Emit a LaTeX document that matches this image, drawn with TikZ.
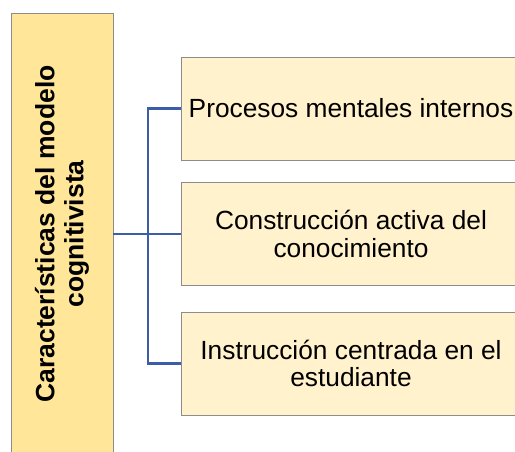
\documentclass[tikz,border=0pt]{standalone}
\usepackage{fontspec}
\setmainfont{Liberation Sans}
\definecolor{mainfill}{HTML}{FFE699}
\definecolor{subfill}{HTML}{FFF2CC}
\definecolor{boxline}{HTML}{8C8C8C}
\definecolor{connblue}{HTML}{3B5EA6}
\begin{document}
\begin{tikzpicture}[x=1pt,y=1pt,
  mainbox/.style={draw=boxline,line width=0.9pt,fill=mainfill,minimum width=102pt,minimum height=442pt,inner sep=0pt},
  subbox/.style={draw=boxline,line width=0.9pt,fill=subfill,minimum width=340pt,minimum height=103pt,inner sep=0pt,align=center,font=\fontsize{26.3}{27.5}\selectfont},
  conn/.style={draw=connblue,line width=2.2pt}]
\clip (0,0) rectangle (515,451);
\fill[white] (0,0) rectangle (515,451);
\node[mainbox] (L) at (62,217) {};
\node[rotate=90,align=center,font=\fontsize{26.5}{29}\selectfont\bfseries] (LT) at (L.center) {Características del modelo\\cognitivista};
\node[subbox] (A) at (351,342.5) {Procesos mentales internos};
\node[subbox] (B) at (351,217) {Construcción activa del\\conocimiento};
\node[subbox] (C) at (351,87.5) {Instrucción centrada en el\\estudiante};
\coordinate (J) at (148,217);
\draw[conn] (L.east) -- (J);
\draw[conn] (J) |- (A.west);
\draw[conn] (J) -- (B.west);
\draw[conn] (J) |- (C.west);
\end{tikzpicture}
\end{document}
